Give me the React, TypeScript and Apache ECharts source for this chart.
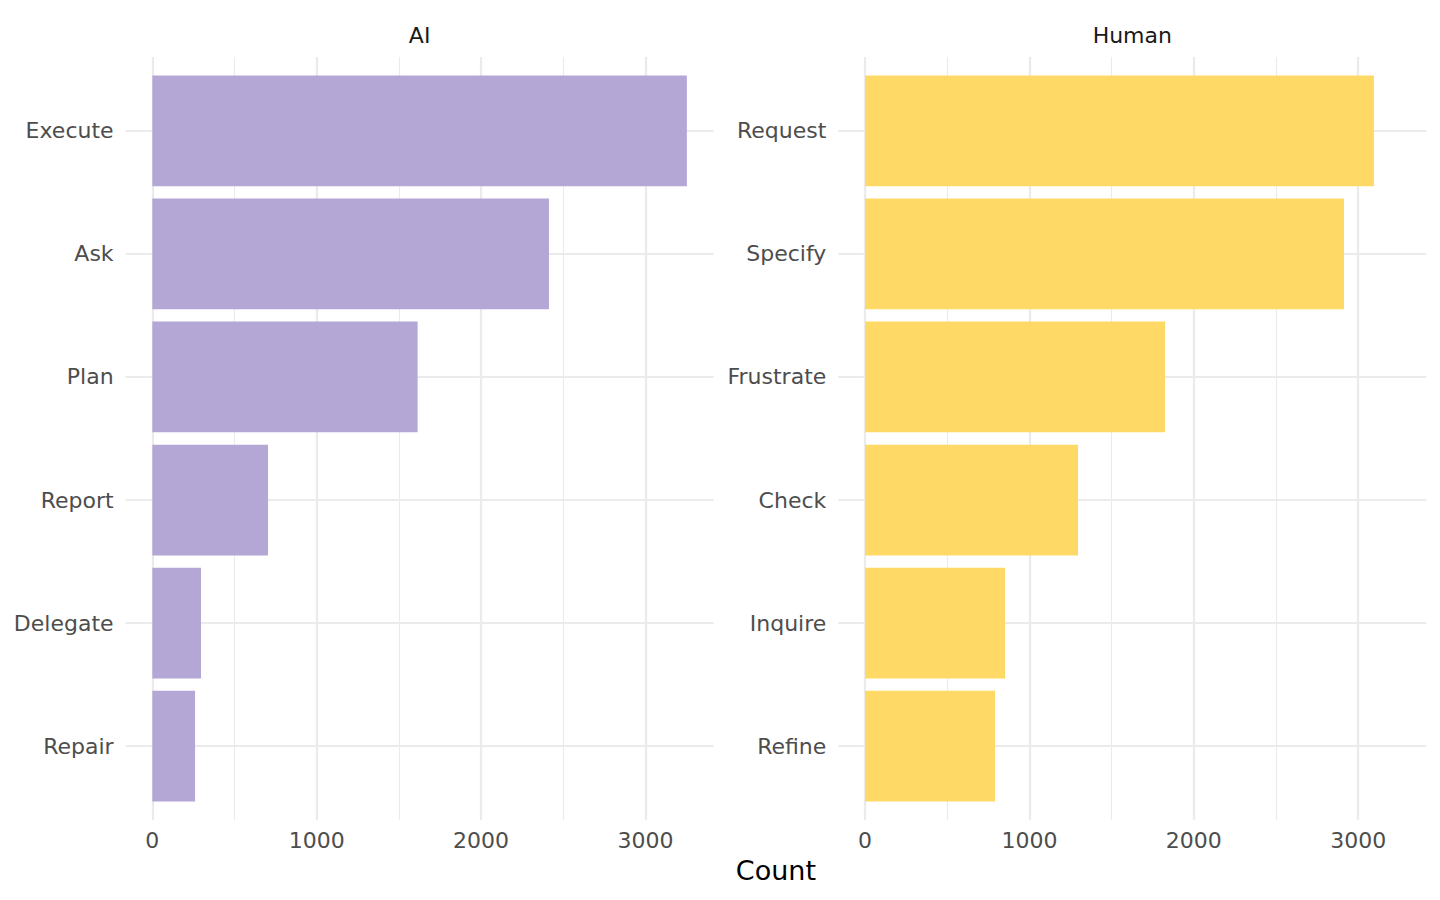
import React, { useEffect, useRef } from 'react';
import * as echarts from 'echarts';

// facets
const panels = ['AI', 'Human'];

// categories, top to bottom
const aiActs = ['Execute', 'Ask', 'Plan', 'Report', 'Delegate', 'Repair'];
const humanActs = ['Request', 'Specify', 'Frustrate', 'Check', 'Inquire', 'Refine'];

// counts
const aiCounts = [3252, 2413, 1614, 704, 296, 260];
const humanCounts = [3096, 2914, 1825, 1296, 852, 791];

const colors = ['#B4A7D6', '#FFD966'];

const App = () => {
    const chartRef = useRef(null);

    useEffect(() => {
        const chart = echarts.init(chartRef.current, null, { renderer: 'svg' });

        const font = 'DejaVu Sans, sans-serif';
        const gridColor = '#EBEBEB';

        // ggplot style expansion: 5% on the shared x scale, 0.6 units on the discrete axis
        const dataMax = Math.max(...aiCounts, ...humanCounts);
        const pad = dataMax * 0.05;
        const xMax = dataMax + pad;

        const panelW = 588;
        const panelTop = 57;
        const panelH = 763;
        const zeroOffset = (panelW * pad) / (dataMax + 2 * pad);
        const band = panelH / (6 - 1 + 1.2);
        const panelLefts = [125.6, 838.3];

        const cats = [aiActs, humanActs];
        const vals = [aiCounts, humanCounts];

        const grid: any[] = [];
        const xAxis: any[] = [];
        const yAxis: any[] = [];
        const series: any[] = [];

        panelLefts.forEach((pl, p) => {
            const g0 = grid.length;
            // frame grid: vertical grid lines + x labels
            grid.push({ left: pl + zeroOffset, top: panelTop, width: panelW - zeroOffset, height: panelH });
            // rows grid: horizontal grid lines + y labels
            grid.push({ left: pl, top: panelTop + 0.6 * band, width: panelW, height: 5 * band });
            // bars grid
            grid.push({ left: pl + zeroOffset, top: panelTop + 0.1 * band, width: panelW - zeroOffset, height: 6 * band });

            // major x
            xAxis.push({
                type: 'value', gridIndex: g0, min: 0, max: xMax, interval: 1000,
                axisLine: { show: false }, axisTick: { show: false },
                splitLine: { show: true, showMaxLine: false, lineStyle: { color: gridColor, width: 2.2 } },
                axisLabel: {
                    color: '#4D4D4D', fontSize: 22, fontFamily: font, margin: 9, showMaxLabel: false,
                    formatter: (v: number) => (v % 1000 === 0 ? String(v) : ''),
                },
            });
            // minor x
            xAxis.push({
                type: 'value', gridIndex: g0, min: 0, max: xMax, interval: 500, position: 'bottom',
                axisLine: { show: false }, axisTick: { show: false }, axisLabel: { show: false },
                splitLine: { show: true, showMaxLine: false, lineStyle: { color: gridColor, width: 1.1 } },
            });
            yAxis.push({ type: 'value', gridIndex: g0, min: 0, max: 1, show: false });

            xAxis.push({ type: 'value', gridIndex: g0 + 1, min: 0, max: 1, show: false });
            yAxis.push({
                type: 'category', gridIndex: g0 + 1, data: cats[p], inverse: true, boundaryGap: false,
                axisLine: { show: false }, axisTick: { show: false },
                splitLine: { show: true, lineStyle: { color: gridColor, width: 2.2 } },
                axisLabel: { color: '#4D4D4D', fontSize: 22, fontFamily: font, margin: 12, padding: [2, 0, 0, 0] },
            });

            xAxis.push({ type: 'value', gridIndex: g0 + 2, min: 0, max: xMax, show: false });
            yAxis.push({ type: 'category', gridIndex: g0 + 2, data: cats[p], inverse: true, show: false });

            series.push({
                type: 'bar',
                name: panels[p],
                xAxisIndex: xAxis.length - 1,
                yAxisIndex: yAxis.length - 1,
                data: vals[p],
                barCategoryGap: '10%',
                itemStyle: { color: colors[p] },
                z: 3,
            });
        });

        const option = {
            animation: false,
            backgroundColor: '#FFFFFF',
            grid,
            xAxis,
            yAxis,
            series,
            graphic: [
                ...panels.map((name, p) => ({
                    type: 'text',
                    x: panelLefts[p] + panelW / 2,
                    y: 35,
                    style: { text: name, fill: '#1A1A1A', fontSize: 22, fontFamily: font, align: 'center', verticalAlign: 'middle' },
                })),
                {
                    type: 'text',
                    x: (panelLefts[0] + panelLefts[1] + panelW) / 2,
                    y: 870.5,
                    style: { text: 'Count', fill: '#000000', fontSize: 27, fontFamily: font, align: 'center', verticalAlign: 'middle' },
                },
            ],
        };

        chart.setOption(option);

        return () => {
            chart.dispose();
        };
    }, []);

    return (
        <div
            ref={chartRef}
            style={{ position: 'absolute', left: 0, top: 0, width: '1440px', height: '900px', background: '#fff' }}
        />
    );
};

export default App;
